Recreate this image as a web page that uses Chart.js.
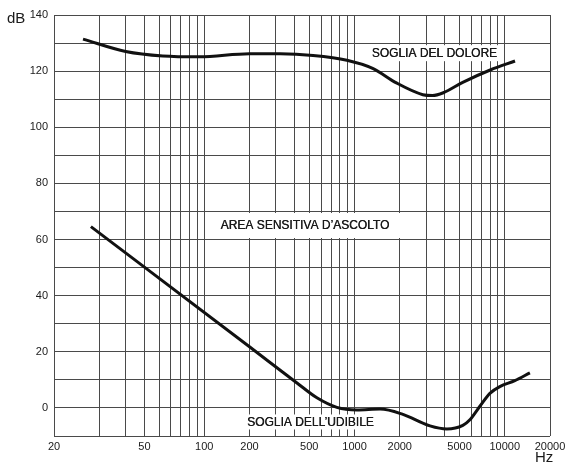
<!DOCTYPE html>
<html>
<head>
<meta charset="utf-8">
<script src="https://cdn.jsdelivr.net/npm/chart.js@4"></script>
<style>
  html, body { margin: 0; padding: 0; background: #fff; }
  #chart { display: block; }
</style>
</head>
<body>
<canvas id="chart" width="567" height="467"></canvas>
<script>
// soglia del dolore (upper curve)
const painFreq = [15.6, 30, 53, 93, 200, 320, 530, 890, 1320, 1900, 2850, 3300, 3900, 5250, 8000, 11700];
const painDb = [131.4, 127, 125.4, 125.1, 126.2, 126.2, 125.6, 123.9, 121, 115.8, 111.6, 111.3, 112.3, 116, 120.4, 123.6];

// soglia dell'udibile (lower curve)
const hearFreq = [17.6, 200, 414, 562, 763, 1037, 1480, 2080, 3180, 4120, 5260, 5860, 6830, 7960, 9270, 11670, 14700];
const hearDb = [64.6, 21.8, 8.9, 3.6, 0.2, -0.7, -0.4, -2.2, -6.4, -7.5, -6.2, -4.2, 0.6, 5.2, 7.6, 9.7, 12.5];

// vertical grid lines and the printed frequency labels
const gridFreqs = [10, 20, 30, 40, 50, 60, 70, 80, 90, 100, 200, 300, 400, 500, 600, 700, 800, 900,
  1000, 2000, 3000, 4000, 5000, 6000, 7000, 8000, 9000, 10000, 20000];
const tickFreqs = [10, 40, 100, 200, 500, 1000, 2000, 5000, 10000, 20000];
const tickLabels = ["20", "50", "100", "200", "500", "1000", "2000", "5000", "10000", "20000"];

const areaTexts = ["SOGLIA DEL DOLORE", "AREA SENSITIVA D\u2019ASCOLTO", "SOGLIA DELL\u2019UDIBILE"];
const areaFreqs = [3400, 468, 509];
const areaDbs = [126.4, 65, -5];

const inkColor = "#111";
const gridColor = "#4a4a4a";
const textColor = "#1a1a1a";
const fontFamily = "'Liberation Sans', Arial, Helvetica, sans-serif";

function toPoints(xs, ys) {
  return xs.map((x, i) => ({ x: x, y: ys[i] }));
}

function labelFor(value) {
  const i = tickFreqs.indexOf(value);
  return i >= 0 ? tickLabels[i] : "";
}

// white boxes behind the texts, drawn over the grid
const boxSizes = [
  { padX: 6, h: 16 },
  { padX: 12, h: 25 },
  { padX: 7, h: 15 },
];

const labelsPlugin = {
  id: "areaLabels",
  beforeDatasetsDraw(chart) {
    const { ctx, scales } = chart;
    ctx.save();
    ctx.font = "12px " + fontFamily;
    ctx.textAlign = "center";
    ctx.textBaseline = "middle";
    areaTexts.forEach((t, i) => {
      const x = scales.x.getPixelForValue(areaFreqs[i]);
      const y = scales.y.getPixelForValue(areaDbs[i]);
      const w = ctx.measureText(t).width + boxSizes[i].padX * 2;
      const h = boxSizes[i].h;
      ctx.fillStyle = "#fff";
      ctx.fillRect(x - w / 2, y - h / 2, w, h);
      ctx.fillStyle = textColor;
      ctx.fillText(t, x, y + 0.5);
      ctx.fillText(t, x + 0.3, y + 0.5);
    });
    ctx.restore();
  },
  afterDraw(chart) {
    const ctx = chart.ctx;
    ctx.save();
    ctx.fillStyle = textColor;
    ctx.font = "15px " + fontFamily;
    ctx.textBaseline = "middle";
    ctx.textAlign = "left";
    ctx.fillText("dB", 7, 19);
    ctx.fillText("Hz", 535, 458);
    ctx.restore();
  },
};

const curveStyle = {
  borderColor: inkColor,
  borderWidth: 3,
  pointRadius: 0,
  fill: false,
  cubicInterpolationMode: "monotone",
  borderCapStyle: "butt",
};

new Chart(document.getElementById("chart"), {
  type: "line",
  data: {
    datasets: [
      { label: "Soglia del dolore", data: toPoints(painFreq, painDb), ...curveStyle },
      { label: "Soglia dell'udibile", data: toPoints(hearFreq, hearDb), ...curveStyle },
    ],
  },
  options: {
    responsive: false,
    animation: false,
    layout: { padding: { left: 0, right: 17, top: 15, bottom: 0 } },
    plugins: {
      legend: { display: false },
      tooltip: { enabled: false },
    },
    scales: {
      x: {
        type: "logarithmic",
        min: 10,
        max: 20000,
        afterBuildTicks: (s) => {
          s.ticks = gridFreqs.map((v) => ({ value: v }));
        },
        afterFit: (s) => {
          s.height = 31;
          s.paddingLeft = 0;
          s.paddingRight = 0;
        },
        ticks: {
          autoSkip: false,
          maxRotation: 0,
          minRotation: 0,
          padding: 4,
          color: textColor,
          font: { family: fontFamily, size: 11 },
          callback: (v) => labelFor(v),
        },
        grid: { color: gridColor, lineWidth: 1, drawTicks: false },
        border: { display: false },
      },
      y: {
        type: "linear",
        min: -10,
        max: 140,
        afterFit: (s) => {
          s.width = 54;
          s.paddingTop = 0;
          s.paddingBottom = 0;
        },
        ticks: {
          stepSize: 10,
          padding: 6,
          color: textColor,
          font: { family: fontFamily, size: 11 },
          callback: (v) => (v % 20 === 0 ? String(v) : ""),
        },
        grid: { color: gridColor, lineWidth: 1, drawTicks: false },
        border: { display: false },
      },
    },
  },
  plugins: [labelsPlugin],
});
</script>
</body>
</html>
